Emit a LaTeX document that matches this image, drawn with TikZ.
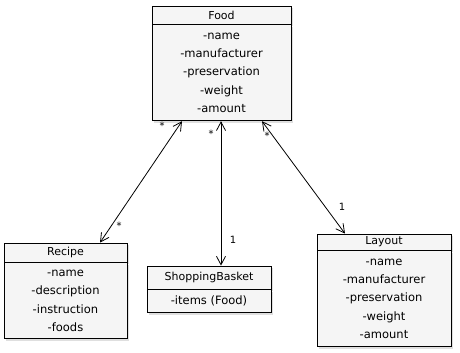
\documentclass[tikz,border=0pt]{standalone}
\usepackage{fontspec}
\setmainfont{DejaVu Sans}
\usepackage{tikz}
\usetikzlibrary{arrows.meta,positioning,shadows}
\tikzset{
  classhead/.style={draw,thick,fill=gray!8,inner sep=0pt,
                    drop shadow={opacity=.25,shadow xshift=2pt,shadow yshift=-2pt}},
  classbody/.style={classhead,align=center,font=\fontsize{11.5}{18.3}\selectfont},
  assoc/.style={{Straight Barb[length=3mm,width=3.2mm]}-{Straight Barb[length=3mm,width=3.2mm]},thick},
  mult/.style={font=\fontsize{10}{10}\selectfont,inner sep=1pt}
}

\begin{document}
\begin{tikzpicture}[x=1pt,y=-1pt,font=\fontsize{11}{12}\selectfont]
  \useasboundingbox (0,0) rectangle (460,353);

  % Food, the central class
  \node[classhead,minimum width=139pt,minimum height=18pt] (foodh) at (221.5,15) {Food};
  \node[classbody,minimum width=139pt,minimum height=96pt,below=0pt of foodh] (foodb)
    {-name\\-manufacturer\\-preservation\\-weight\\-amount};

  % Recipe
  \node[classhead,minimum width=123pt,minimum height=19pt] (reciph) at (65.5,252.5) {Recipe};
  \node[classbody,minimum width=123pt,minimum height=76pt,below=0pt of reciph] (recipb)
    {-name\\-description\\-instruction\\-foods};

  % ShoppingBasket
  \node[classhead,minimum width=124pt,minimum height=23pt] (baskh) at (209,277.5) {ShoppingBasket};
  \node[classbody,minimum width=124pt,minimum height=23pt,below=0pt of baskh] (baskb)
    {-items (Food)};

  % Layout
  \node[classhead,minimum width=134pt,minimum height=16pt] (layh) at (384,242) {Layout};
  \node[classbody,minimum width=134pt,minimum height=96pt,below=0pt of layh] (layb)
    {-name\\-manufacturer\\-preservation\\-weight\\-amount};

  % associations
  \draw[assoc] ([xshift=-39.5pt]foodb.south) -- ([xshift=34.5pt]reciph.north);
  \draw[assoc] ([xshift=-0.5pt]foodb.south) -- ([xshift=12pt]baskh.north);
  \draw[assoc] ([xshift=40.5pt]foodb.south) -- ([xshift=-39pt]layh.north);

  % multiplicities
  \node[mult] (m1) at (162,126) {*};
  \node[mult] (m2) at (119,226) {*};
  \node[mult] (m3) at (211,134) {*};
  \node[mult] (m4) at (233,240) {1};
  \node[mult] (m5) at (267,136) {*};
  \node[mult] (m6) at (342,207) {1};
\end{tikzpicture}
\end{document}
